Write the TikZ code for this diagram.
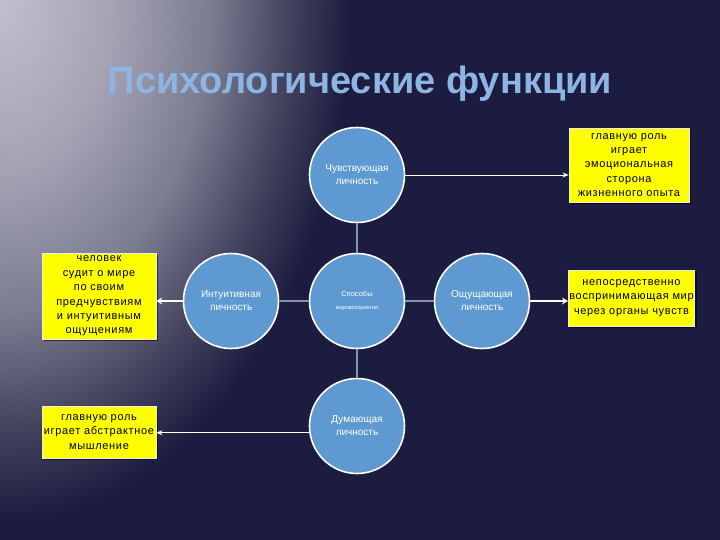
\documentclass[tikz,border=0pt]{standalone}
\usepackage{fontspec}
\setmainfont{Liberation Sans}
\newfontfamily\notefont[LetterSpace=6]{Liberation Sans}
\usetikzlibrary{arrows.meta,shadows}

\definecolor{bgnavy}{RGB}{28,28,64}
\definecolor{glowA}{RGB}{192,191,206}
\definecolor{glowB}{RGB}{165,164,181}
\definecolor{glowC}{RGB}{124,124,146}
\definecolor{glowD}{RGB}{68,68,95}
\definecolor{circblue}{RGB}{95,153,210}
\definecolor{titleblue}{RGB}{141,180,226}
\definecolor{linkgray}{RGB}{130,145,180}
\definecolor{boxyellow}{RGB}{255,255,0}

\pgfdeclareradialshading{glow}{\pgfpointorigin}{color(0bp)=(glowA); color(8bp)=(glowB); color(15bp)=(glowC); color(20.5bp)=(glowD); color(25bp)=(bgnavy); color(50bp)=(bgnavy)}

\tikzset{
    func/.style={circle, draw=white, line width=1.6pt, fill=circblue, minimum size=95pt, inner sep=0pt, text=white, align=center, font=\fontsize{10}{13}\selectfont},
    note/.style={draw=white!85!gray, line width=0.8pt, fill=boxyellow, text=black, align=center, inner sep=1pt, font=\notefont\fontsize{11}{14.4}\selectfont, drop shadow={shadow xshift=2pt, shadow yshift=-2pt, fill=black, opacity=0.55}},
    link/.style={linkgray, line width=2pt},
    thin arrow/.style={-{Stealth[length=6pt,width=5pt]}, white, line width=0.9pt},
    thick arrow/.style={-{Stealth[length=6pt,width=7pt]}, white, line width=2.6pt},
}

\begin{document}
\begin{tikzpicture}[x=1pt, y=-1pt]

    \useasboundingbox (0,0) rectangle (720,540);

    % Background: navy with a light glow in the upper left corner
    \fill[bgnavy] (0,0) rectangle (720,540);
    \begin{scope}
        \clip (0,0) rectangle (720,540);
        \shade[shading=glow] (0,0) ellipse (350 and 520);
    \end{scope}

    \node[text=titleblue, font=\bfseries\fontsize{38}{42}\selectfont] (title) at (360,84) {Психологические функции};

    % Functions round the centre
    \node[func] (chuv) at (357,175) {Чувствующая\\личность};
    \node[func] (sposob) at (357,301) {{\fontsize{7.5}{8.5}\selectfont Способы}\\{\fontsize{5.5}{7}\selectfont мировосприятия}};
    \node[func] (intu) at (231,301) {Интуитивная\\личность};
    \node[func] (oshch) at (482,301) {Ощущающая\\личность};
    \node[func] (duma) at (357,426) {Думающая\\личность};

    % Descriptions
    \node[note, minimum width=120pt, minimum height=74pt] (emo) at (629,165) {главную роль\\играет\\эмоциональная\\сторона\\жизненного опыта};
    \node[note, minimum width=125pt, minimum height=56pt] (direct) at (631.5,298) {непосредственно\\воспринимающая мир\\через органы чувств};
    \node[note, minimum width=114pt, minimum height=86pt] (intuit) at (99,296) {человек\\судит о мире\\по своим\\предчувствиям\\и интуитивным\\ощущениям};
    \node[note, minimum width=114pt, minimum height=52pt] (abstr) at (99,432) {главную роль\\играет абстрактное\\мышление};

    \draw[link] (sposob) -- (chuv);
    \draw[link] (sposob) -- (intu);
    \draw[link] (sposob) -- (oshch);
    \draw[link] (sposob) -- (duma);

    \draw[thin arrow] (chuv.east) -- (chuv.east -| emo.west);
    \draw[thick arrow] (oshch.east) -- (oshch.east -| direct.west);
    \draw[thick arrow] (intu.west) -- (intu.west -| intuit.east);
    \draw[thin arrow] (duma.188) -- (duma.188 -| abstr.east);

\end{tikzpicture}
\end{document}
